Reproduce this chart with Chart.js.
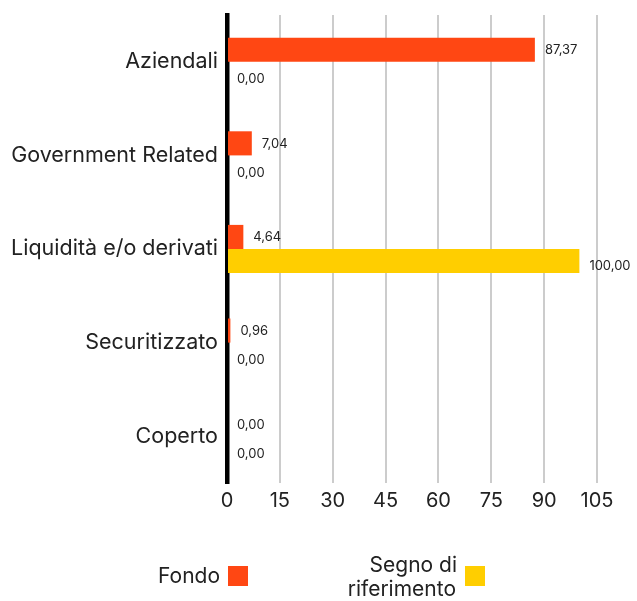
<!DOCTYPE html>
<html><head><meta charset="utf-8">
<script src="https://cdn.jsdelivr.net/npm/chart.js@4/dist/chart.umd.min.js"></script>
<style>html,body{margin:0;padding:0;background:#fff}#wrap{width:637px;height:601px;position:relative}</style>
</head><body><div id="wrap"><canvas id="c" width="637" height="601"></canvas></div>
<script>
const categories = ["Aziendali","Government Related","Liquidità e/o derivati","Securitizzato","Coperto"];
const fondo = [87.37, 7.04, 4.64, 0.96, 0.00];
const benchmark = [0.00, 0.00, 100.00, 0.00, 0.00];
const seriesNames = ["Fondo", ["Segno di","riferimento"]];
const colors = ["#FF4713", "#FFCE00"];
const FONT = "Inter, 'Noto Sans', sans-serif";

const labelPlugin = {
  id: 'valLabels',
  afterDatasetsDraw(chart) {
    const ctx = chart.ctx;
    ctx.save();
    ctx.font = "13px " + FONT;
    ctx.fillStyle = "#222";
    ctx.textBaseline = "middle";
    ctx.textAlign = "left";
    chart.data.datasets.forEach((ds, i) => {
      chart.getDatasetMeta(i).data.forEach((el, j) => {
        const v = ds.data[j];
        const dy = i === 0 ? 0.5 : 5.5;
        ctx.fillText(v.toFixed(2).replace('.', ','), el.x + 10, el.y + dy);
      });
    });
    ctx.restore();
  }
};
const legendPlugin = {
  id: 'customLegend',
  afterDraw(chart) {
    const ctx = chart.ctx;
    ctx.save();
    ctx.font = "21px " + FONT;
    ctx.fillStyle = "#222";
    ctx.textAlign = "right";
    ctx.textBaseline = "middle";
    ctx.fillText(seriesNames[0], 220, 577);
    ctx.fillStyle = colors[0];
    ctx.fillRect(228, 566, 20, 20);
    ctx.fillStyle = "#222";
    ctx.fillText(seriesNames[1][0], 457, 566);
    ctx.fillText(seriesNames[1][1], 456, 590);
    ctx.fillStyle = colors[1];
    ctx.fillRect(465, 566, 20, 20);
    ctx.restore();
  }
};

new Chart(document.getElementById('c'), {
  type: 'bar',
  data: {
    labels: categories,
    datasets: [
      { label: "Fondo", data: fondo, backgroundColor: colors[0], categoryPercentage: 0.515, barPercentage: 1.0 },
      { label: "Segno di riferimento", data: benchmark, backgroundColor: colors[1], categoryPercentage: 0.515, barPercentage: 1.0 }
    ]
  },
  options: {
    indexAxis: 'y',
    responsive: false,
    animation: false,
    layout: { padding: { top: 15, right: 40, bottom: 83, left: 0 } },
    plugins: { legend: { display: false }, tooltip: { enabled: false } },
    scales: {
      x: {
        min: 0, max: 105,
        ticks: { stepSize: 15, color: "#222", font: { size: 20, family: FONT }, padding: 6 },
        grid: { color: (c) => c.tick && c.tick.value === 0 ? 'rgba(0,0,0,0)' : '#cccccc', lineWidth: 2, drawTicks: false },
        border: { display: false },
        afterFit(s) { s.height = 35; s.paddingLeft = 0; s.paddingRight = 0; }
      },
      y: {
        ticks: { color: "#222", font: { size: 21.5, family: FONT }, padding: 9 },
        grid: { display: false, drawTicks: false, tickLength: 0 },
        border: { display: true, color: "#000", width: 4.5 },
        afterFit(s) { s.width = 227; s.paddingTop = 0; s.paddingBottom = 0; }
      }
    }
  },
  plugins: [labelPlugin, legendPlugin]
});
</script></body></html>
